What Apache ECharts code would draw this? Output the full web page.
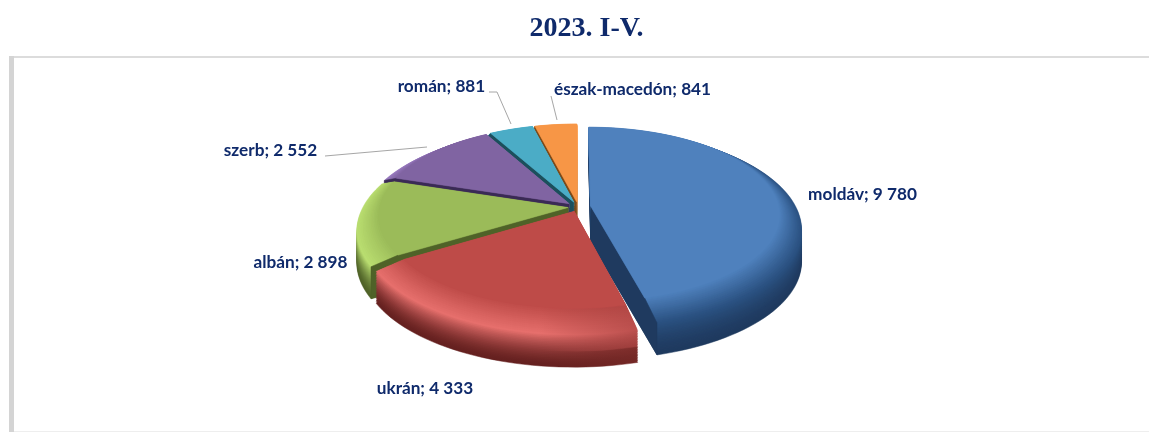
<!DOCTYPE html>
<html><head><meta charset="utf-8">
<style>html,body{margin:0;padding:0;background:#fff}#c{width:1149px;height:432px}</style>
<script src="https://cdn.jsdelivr.net/npm/echarts@6/dist/echarts.min.js"></script>
</head><body><div id="c"></div>
<script>
const titleText = '2023. I-V.';
const categories = ['moldáv','ukrán','albán','szerb','román','észak-macedón'];
const values = [9780,4333,2898,2552,881,841];

// look of each slice: flat top, rim highlight, dark side
const baseColors = ['#4f81bd','#be4b48','#9bbb59','#8064a2','#4bacc6','#f79646'];
const rimColors  = ['#2b5282','#e66f6c','#b9dd70','#9a7cc0','#6cc8e0','#ffb06a'];
const wallColors = ['#1f3a5f','#65201f','#4f6228','#3a2a55','#1c4f5c','#7a4a1a'];
const rimFade    = [0,1,0,0,0,0];
const explode    = [0.062,0.048,0.048,0.055,0.055,0.055];
// painter's order, back to front
const paintRank  = [4,5,3,2,1,0];
// label layout: [x, y] of label centre; leader polyline if any
const labelAt = [[862.5,194],[425,388],[300.5,262],[270.5,150],[441.5,86],[632.5,89]];
const leaders = [null,null,null,[[325,156],[427,147]],[[489,92],[497,92],[511,124]],[[551,96],[557,120]]];

const CX=578, CY=207, RX=207, RY=95.7, PERSP=0.1865, DEPTH=36, RIMH=4, BEVEL_BACK=0.02, BEVEL_FRONT=0.16;
const total = values.reduce((a,b)=>a+b,0);
const fmt = v => String(v).replace(/\B(?=(\d{3})+$)/g,' ');
const hex = c => [1,3,5].map(i=>parseInt(c.substr(i,2),16));
const mixHex = (a,b,t)=>{const A=hex(a),B=hex(b);return '#'+A.map((x,i)=>Math.round(x+(B[i]-x)*t).toString(16).padStart(2,'0')).join('');};
const bevel = a => BEVEL_BACK+(BEVEL_FRONT-BEVEL_BACK)*(1-Math.cos(a))/2;

function project(u,v,h){const s=1/(1+PERSP*v);return [CX+RX*u*s, CY-RY*v*s+h];}

// t: 0 = outer rim, 1 = inner flat edge
function wedge(a0,a1,mid,e,t,h){
  const ou=Math.sin(mid)*e, ov=Math.cos(mid)*e;
  const pts=[project(ou,ov,h)];
  const n=Math.max(4,Math.ceil((a1-a0)/(Math.PI/90)));
  for(let i=0;i<=n;i++){const a=a0+(a1-a0)*i/n,r=1-bevel(a)*t;pts.push(project(ou+Math.sin(a)*r,ov+Math.cos(a)*r,h));}
  return pts;
}
function wall(a,mid,e){
  const ou=Math.sin(mid)*e, ov=Math.cos(mid)*e;
  const P=(r,h)=>project(ou+Math.sin(a)*r,ov+Math.cos(a)*r,h);
  return [P(0,0),P(1-bevel(a),0),P(1,RIMH),P(1,DEPTH),P(0,DEPTH)];
}
function paint(c,i,t){
  if(!rimFade[i]) return c;
  const far=mixHex(c,t<0.5?'#7a2a28':'#a84240',0.75);
  return new echarts.graphic.LinearGradient(540,0,645,0,[{offset:0,color:c},{offset:1,color:far}],true);
}

function renderItem(params,api){
  const i=params.dataIndex, v=api.value(0), e=explode[i];
  let before=0; for(let k=0;k<i;k++) before+=values[k];
  const a0=before/total*2*Math.PI, a1=(before+v)/total*2*Math.PI, mid=(a0+a1)/2;
  const kids=[];
  let zz=paintRank[i]*100;
  const poly=(pts,fill)=>kids.push({type:'polygon',z2:zz++,shape:{points:pts},style:{fill,stroke:fill,lineWidth:0.5}});
  const NW=20, NB=14;
  for(let n=0;n<=NW;n++){const t=n/NW;poly(wedge(a0,a1,mid,e,0,DEPTH+(RIMH-DEPTH)*t),paint(mixHex(wallColors[i],rimColors[i],Math.pow(t,1.6)),i,t));}
  for(let n=1;n<NB;n++){const t=n/NB;poly(wedge(a0,a1,mid,e,t,RIMH*(1-t)),paint(mixHex(rimColors[i],baseColors[i],t),i,1));}
  if(a0>Math.PI) poly(wall(a0,mid,e),wallColors[i]);
  if(a1<Math.PI) poly(wall(a1,mid,e),wallColors[i]);
  poly(wedge(a0,a1,mid,e,1,0),baseColors[i]);
  if(leaders[i]) kids.push({type:'polyline',z2:5000,shape:{points:leaders[i]},style:{stroke:'#a6a6a6',lineWidth:1,fill:null}});
  kids.push({type:'text',z2:5001,style:{text:categories[i]+'; '+fmt(v),x:labelAt[i][0],y:labelAt[i][1],fill:'#0f2a6b',
    fontFamily:'Lato',fontWeight:'bold',fontSize:17.2,textAlign:'center',textVerticalAlign:'middle'}});
  return {type:'group',children:kids};
}

const chart=echarts.init(document.getElementById('c'),null,{renderer:'canvas'});
chart.setOption({
  animation:false,
  backgroundColor:'#fff',
  title:{text:titleText,left:581.5,top:10,textAlign:'center',
    textStyle:{fontFamily:'Liberation Serif',fontWeight:'bold',fontSize:28,color:'#0f2a6b'}},
  graphic:[
    {type:'rect',shape:{x:9,y:56,width:1140,height:2},style:{fill:'#dcdcdc'}},
    {type:'rect',shape:{x:9,y:56,width:5,height:376},style:{fill:'#d4d4d4'}},
    {type:'rect',shape:{x:14,y:431,width:1135,height:1},style:{fill:'#eeeeee'}}
  ],
  series:[{type:'custom',coordinateSystem:'none',renderItem,silent:true,
    data:values.map((v,i)=>({name:categories[i],value:[v]}))}]
});
</script></body></html>
